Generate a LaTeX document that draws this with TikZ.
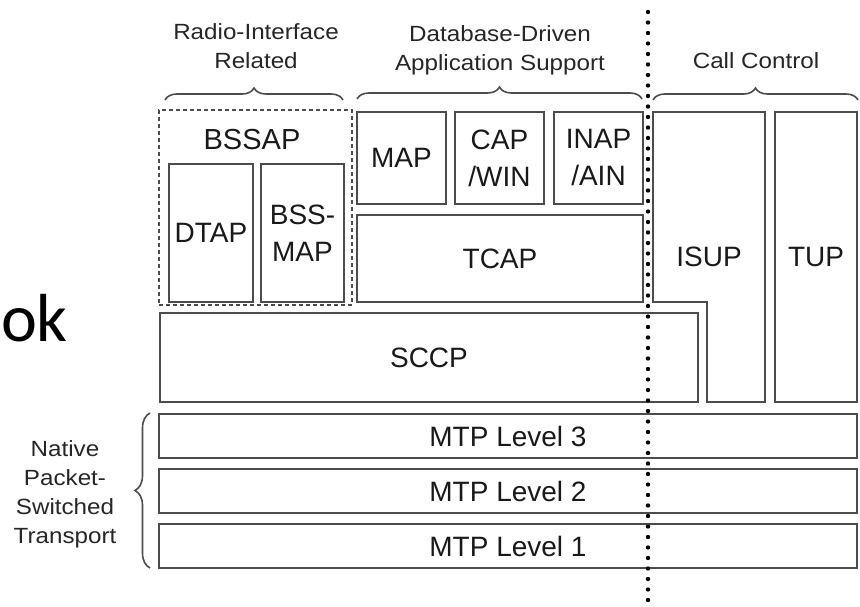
\documentclass[tikz,border=0pt]{standalone}
\usepackage{fontspec}
\setmainfont{Liberation Sans}
\newfontfamily\headfont{Liberation Sans}[FakeStretch=1.1]
\newfontfamily\slidefont{Carlito}
\usetikzlibrary{decorations.pathreplacing}

\tikzset{
  blk/.style={draw=black!70, line width=1.9pt, inner sep=0pt, align=center,
    text=black!90, font=\fontsize{28}{37}\selectfont},
  head/.style={align=center, inner sep=0pt, text=black!85,
    font=\headfont\fontsize{22}{29}\selectfont},
  grp/.style={decorate, decoration={brace, amplitude=12pt},
    draw=black!70, line width=1.6pt},
  sep/.style={line width=4.4pt, line cap=round, dash pattern=on 0pt off 10.5pt}
}

\begin{document}
\begin{tikzpicture}[x=1pt, y=-1pt]
    \useasboundingbox (0,0) rectangle (860,607);

    % slide text
    \node[anchor=base east, inner sep=0pt, font=\slidefont\fontsize{68}{80}\selectfont] (ok) at (68,341) {ok};

    % group labels
    \node[head] (radio) at (256,46) {Radio-Interface\\Related};
    \node[head] (dbase) at (500,50) {Database-Driven\\Application Support};
    \node[head] (call) at (756,61) {Call Control};
    \node[head] (native) at (65,494) {Native\\Packet-\\Switched\\Transport};

    \coordinate (radioL) at (165,100); \coordinate (radioR) at (343,100);
    \coordinate (dbaseL) at (357,99);  \coordinate (dbaseR) at (642,99);
    \coordinate (callL) at (653,100);  \coordinate (callR) at (858,100);
    \coordinate (mtpB) at (150,568);   \coordinate (mtpT) at (150,413);
    \draw[grp] (radioL) -- (radioR);
    \draw[grp] (dbaseL) -- (dbaseR);
    \draw[grp] (callL) -- (callR);
    \draw[grp, decoration={amplitude=15pt}] (mtpB) -- (mtpT);

    % radio interface
    \node[blk, dashed, dash pattern=on 4pt off 3pt, minimum width=193, minimum height=195] (bssap) at (255.5,207.5) {};
    \node[text=black!90, font=\fontsize{29}{37}\selectfont] (bssapl) at (252,140) {BSSAP};
    \node[blk, minimum width=84, minimum height=138] (dtap) at (211,233) {DTAP};
    \node[blk, minimum width=83, minimum height=138] (bssmap) at (302.5,233) {BSS-\\MAP};

    % database driven
    \node[blk, minimum width=89, minimum height=92] (map) at (401.5,158) {MAP};
    \node[blk, minimum width=89, minimum height=92] (cap) at (499.5,158) {CAP\\/WIN};
    \node[blk, minimum width=89, minimum height=92] (inap) at (598.5,158) {INAP\\/AIN};
    \node[blk, minimum width=286, minimum height=87] (tcap) at (500,258.5) {TCAP};

    % call control
    \draw[draw=black!70, line width=1.9pt] (653,112) -- (765,112) -- (765,402)
    -- (707,402) -- (707,302) -- (653,302) -- cycle;
    \node[text=black!90, font=\fontsize{28}{37}\selectfont] (isup) at (709,257) {ISUP};
    \node[blk, minimum width=82, minimum height=290] (tup) at (816,257) {TUP};

    \node[blk, minimum width=538, minimum height=89] (sccp) at (429,357.5) {SCCP};

    \foreach \lvl/\yy in {3/436,2/491,1/546}
    \node[blk, minimum width=698, minimum height=44] (mtp\lvl) at (508,\yy) {MTP Level \lvl};

    % dotted divider
    \coordinate (divT) at (648,12);
    \coordinate (divB) at (648,605);
    \draw[sep] (divT) -- (divB);

\end{tikzpicture}
\end{document}
